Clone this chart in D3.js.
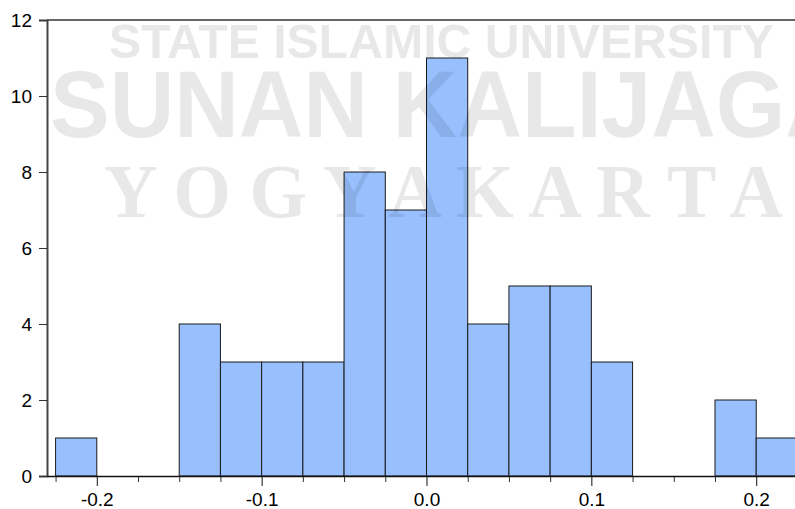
<!DOCTYPE html>
<html>
<head>
<meta charset="utf-8">
<script src="https://cdn.jsdelivr.net/npm/d3@7"></script>
<style>
  body { margin: 0; background: #fff; }
  svg { display: block; }
</style>
</head>
<body>
<svg id="histchart" width="795" height="509"></svg>
<script>
/* Histogram values */
var binStarts = [-0.225, -0.2, -0.175, -0.15, -0.125, -0.1, -0.075, -0.05, -0.025,
                 0, 0.025, 0.05, 0.075, 0.1, 0.125, 0.15, 0.175, 0.2];
var binEnds = [-0.2, -0.175, -0.15, -0.125, -0.1, -0.075, -0.05, -0.025, 0,
               0.025, 0.05, 0.075, 0.1, 0.125, 0.15, 0.175, 0.2, 0.225];
var counts = [1, 0, 0, 4, 3, 3, 3, 8, 7, 11, 4, 5, 5, 3, 0, 0, 2, 1];

var xMajorTicks = [-0.2, -0.1, 0, 0.1, 0.2];
var xMinorTicks = [-0.225, -0.175, -0.15, -0.125, -0.075, -0.05, -0.025,
                   0.025, 0.05, 0.075, 0.125, 0.15, 0.175, 0.225];
var yTicks = [0, 2, 4, 6, 8, 10, 12];

var watermarkLines = ["STATE ISLAMIC UNIVERSITY", "SUNAN KALIJAGA", "Y O G Y A K A R T A"];

function histChart() {
    var margin = {top: 20, left: 47};
    var barColor = "#98c0ff";

    var svg = d3.select("#histchart");

    var xAxis = d3.scaleLinear()
        .domain([-0.2302, 0.2302])
        .range([47, 806]);

    var yAxis = d3.scaleLinear()
        .domain([0, 12])
        .range([476, 20]);

    /* Bars */
    var bars = binStarts.map((s, i) => ({x0: s, x1: binEnds[i], n: counts[i]}))
        .filter(d => d.n > 0);

    svg.selectAll("rect.bar")
        .data(bars)
        .join("rect")
        .attr("class", "bar")
        .attr("x", d => xAxis(d.x0))
        .attr("y", d => yAxis(d.n))
        .attr("width", d => xAxis(d.x1) - xAxis(d.x0))
        .attr("height", d => yAxis(0) - yAxis(d.n))
        .attr("fill", barColor)
        .attr("stroke", "#1a1a1a")
        .attr("stroke-width", 1);

    /* Watermark, drawn over the bars */
    var wm = svg.append("g")
        .attr("fill", "#000")
        .attr("opacity", 0.085);
    wm.append("text")
        .attr("x", 109)
        .attr("y", 58)
        .attr("font-family", "Liberation Sans")
        .attr("font-weight", "bold")
        .attr("font-size", 48)
        .attr("textLength", 665)
        .attr("lengthAdjust", "spacingAndGlyphs")
        .text(watermarkLines[0]);
    wm.append("text")
        .attr("x", 50)
        .attr("y", 137)
        .attr("font-family", "Liberation Sans")
        .attr("font-weight", "bold")
        .attr("font-size", 94)
        .attr("textLength", 800)
        .attr("lengthAdjust", "spacingAndGlyphs")
        .text(watermarkLines[1]);
    wm.append("text")
        .attr("x", 104)
        .attr("y", 217)
        .attr("font-family", "Liberation Serif")
        .attr("font-weight", "bold")
        .attr("font-size", 77)
        .attr("textLength", 679)
        .attr("lengthAdjust", "spacingAndGlyphs")
        .text(watermarkLines[2]);

    /* Frame: top line */
    svg.append("line")
        .attr("x1", xAxis.range()[0]).attr("x2", xAxis.range()[1])
        .attr("y1", yAxis(12)).attr("y2", yAxis(12))
        .attr("stroke", "#333").attr("stroke-width", 1.5);

    /* Y axis */
    var gy = svg.append("g")
        .attr("transform", "translate(" + margin.left + ",0)")
        .call(d3.axisLeft(yAxis).tickValues(yTicks).tickSize(8).tickPadding(7)
            .tickFormat(d => d.toString()));
    gy.select(".domain").attr("stroke", "#444").attr("stroke-width", 2);
    gy.selectAll(".tick line").attr("stroke", "#333");
    gy.selectAll(".tick text")
        .attr("font-family", "Liberation Sans")
        .attr("font-size", 19)
        .attr("fill", "#000");

    /* X axis: minor ticks then major ticks with labels */
    var gxMinor = svg.append("g")
        .attr("transform", "translate(0," + yAxis(0) + ")")
        .call(d3.axisBottom(xAxis).tickValues(xMinorTicks).tickSize(6).tickFormat(""));
    gxMinor.select(".domain").remove();
    gxMinor.selectAll(".tick line").attr("stroke", "#333");

    var gx = svg.append("g")
        .attr("transform", "translate(0," + yAxis(0) + ")")
        .call(d3.axisBottom(xAxis).tickValues(xMajorTicks).tickSize(10).tickSizeOuter(0)
            .tickPadding(7).tickFormat(d => d.toFixed(1)));
    gx.select(".domain").attr("stroke", "#111").attr("stroke-width", 1.5);
    gx.selectAll(".tick line").attr("stroke", "#111");
    gx.selectAll(".tick text")
        .attr("font-family", "Liberation Sans")
        .attr("font-size", 19)
        .attr("fill", "#000");

    return svg;
}
histChart();
</script>
</body>
</html>
